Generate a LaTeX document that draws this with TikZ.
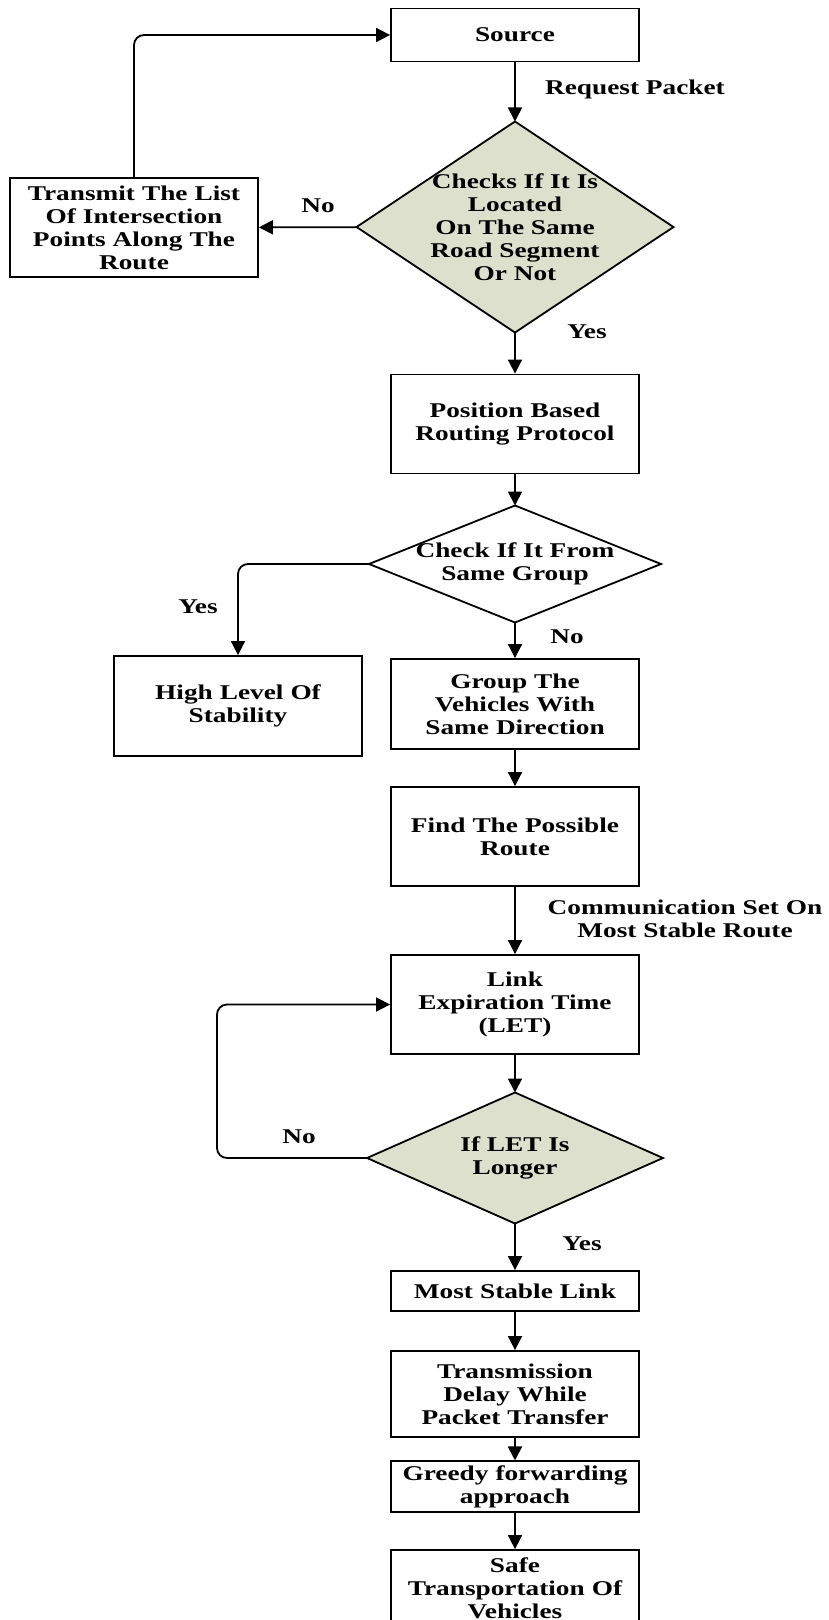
\documentclass[tikz,border=0pt]{standalone}
\usepackage{fontspec}
\setmainfont{Liberation Serif}[FakeStretch=1.3]
\usepackage{tikz}
\usetikzlibrary{arrows.meta,shapes.geometric}
\definecolor{decfill}{RGB}{221,224,204}

\begin{document}
\begin{tikzpicture}[x=1pt,y=-1pt,
	font=\bfseries\fontsize{21}{23}\selectfont,
	>={Triangle[length=14pt,width=14pt]},
	proc_node/.style={rectangle,draw,line width=1.8pt,inner sep=4pt,text width=240pt,align=center},
	dec_node/.style={diamond,draw,line width=1.8pt,inner sep=0pt,outer sep=0pt},
	dec_text/.style={align=center,inner sep=0pt},
	lbl_node/.style={align=center,inner sep=0pt},
	flow/.style={->,line width=1.8pt}]
	\useasboundingbox (0,0) rectangle (828,1620);

	\node[proc_node, minimum height=53pt] (src) at (515, 35) {Source};
	\node[dec_node, fill=decfill, minimum width=317pt, minimum height=211pt,
		label={[dec_text]center:{Checks If It Is\\Located\\On The Same\\Road Segment\\Or Not}}] (chk1) at (515, 227) {};
	\node[proc_node, minimum height=99pt] (tlist) at (134, 227.5) {Transmit The List\\Of Intersection\\Points Along The\\Route};

	\node[proc_node, minimum height=99pt] (pbr) at (515, 424) {Position Based\\Routing Protocol};
	\node[dec_node, minimum width=292pt, minimum height=117pt,
		label={[dec_text]center:{Check If It From\\Same Group}}] (chk2) at (515, 564) {};
	\node[proc_node, minimum height=100pt] (hls) at (238, 706) {High Level Of\\Stability};
	\node[proc_node, minimum height=90pt] (grp) at (515, 704) {Group The\\Vehicles With\\Same Direction};
	\node[proc_node, minimum height=99pt] (fpr) at (515, 836.5) {Find The Possible\\Route};

	\node[proc_node, minimum height=99pt] (let) at (515, 1004.5) {Link\\Expiration Time\\(LET)};
	\node[dec_node, fill=decfill, minimum width=296pt, minimum height=131pt,
		label={[dec_text]center:{If LET Is\\Longer}}] (chk3) at (515, 1158) {};
	\coordinate (loopc) at (217, 1158);

	\node[proc_node, minimum height=40pt] (msl) at (515, 1291) {Most Stable Link};
	\node[proc_node, minimum height=86pt] (tdp) at (515, 1394) {Transmission\\Delay While\\Packet Transfer};
	\node[proc_node, minimum height=47pt] (gfa) at (515, 1486.5) {Greedy forwarding\\approach};
	\node[proc_node, minimum height=76pt] (stv) at (515, 1588) {Safe\\Transportation Of\\Vehicles};

	\node[lbl_node] (lreq) at (635, 89) {Request Packet};
	\node[lbl_node] (lno1) at (318, 206) {No};
	\node[lbl_node] (lyes1) at (587, 332) {Yes};
	\node[lbl_node] (lyes2) at (198, 607) {Yes};
	\node[lbl_node] (lno2) at (567, 637) {No};
	\node[lbl_node] (lcom) at (685, 919) {Communication Set On\\Most Stable Route};
	\node[lbl_node] (lno3) at (299, 1137) {No};
	\node[lbl_node] (lyes3) at (582, 1244) {Yes};

\draw[flow] (src) -- (chk1);
\draw[flow] (chk1) -- (tlist);
\draw[flow, rounded corners=10pt] (tlist.north) |- (src.west);
\draw[flow] (chk1) -- (pbr);
\draw[flow] (pbr) -- (chk2);
\draw[flow, rounded corners=10pt] (chk2.west) -| (hls.north);
\draw[flow] (chk2) -- (grp);
\draw[flow] (grp) -- (fpr);
\draw[flow] (fpr) -- (let);
\draw[flow] (let) -- (chk3);
\draw[flow, rounded corners=10pt] (chk3.west) -- (loopc) |- (let.west);
\draw[flow] (chk3) -- (msl);
\draw[flow] (msl) -- (tdp);
\draw[flow] (tdp) -- (gfa);
\draw[flow] (gfa) -- (stv);

\end{tikzpicture}
\end{document}
